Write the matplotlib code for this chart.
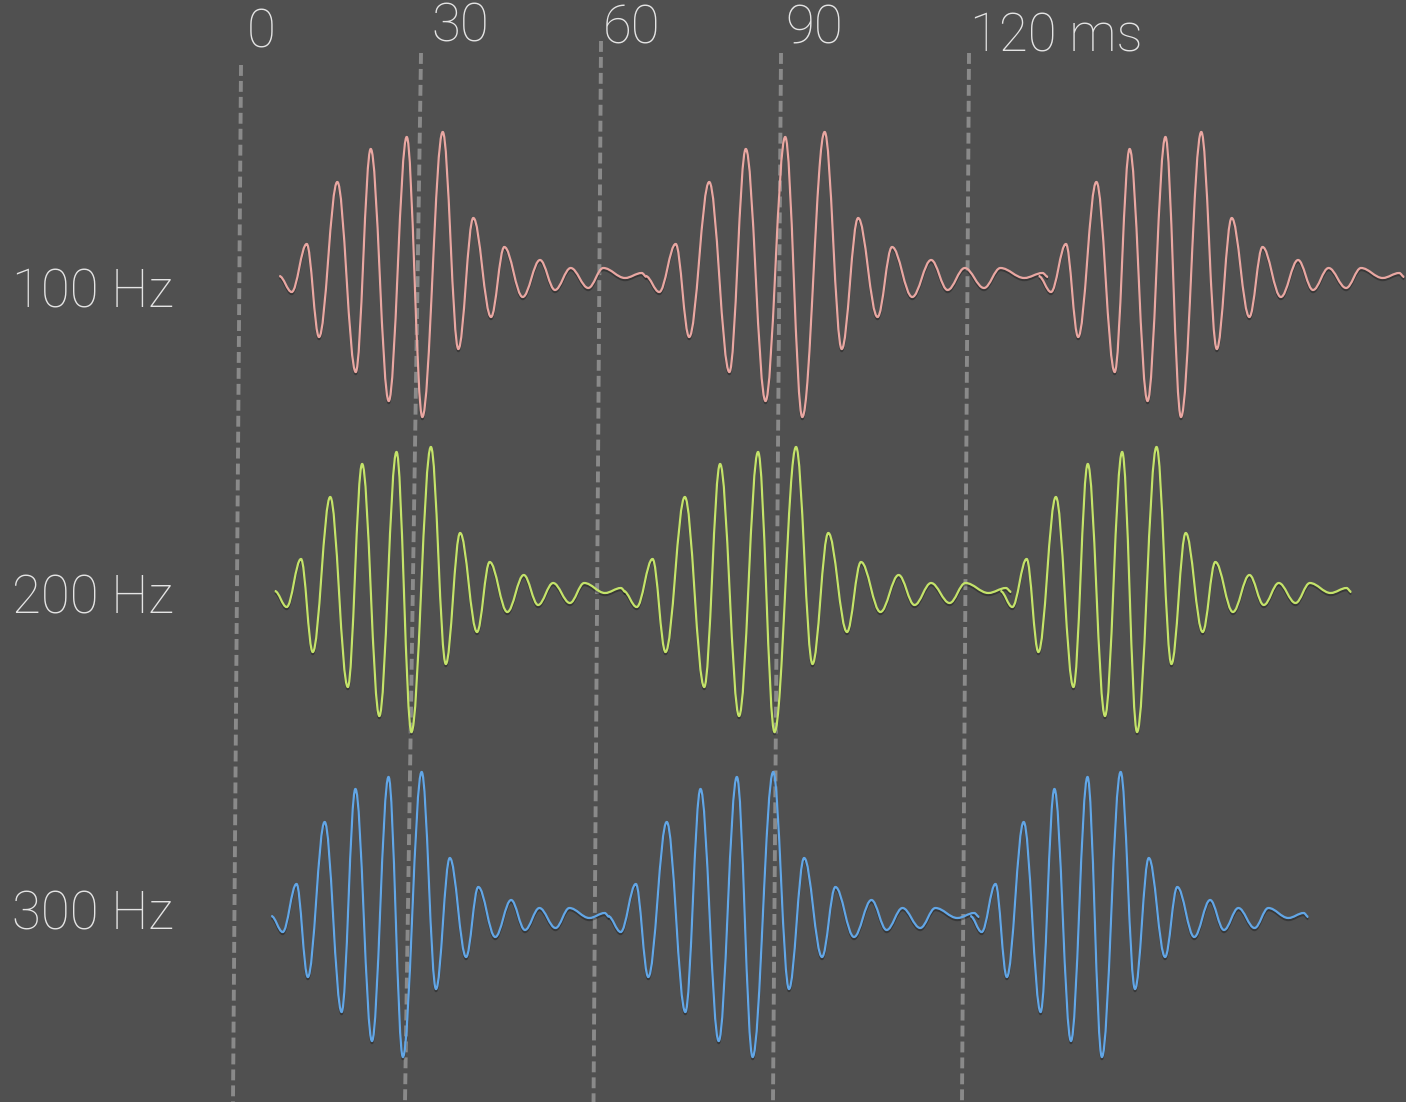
import numpy as np
import matplotlib
matplotlib.use("Agg")
import matplotlib.pyplot as plt
from matplotlib.path import Path
from matplotlib.patches import PathPatch
import matplotlib.patheffects as pe

# one wave packet: extrema times (ms, from first trough) and amplitudes
shape_t = [-2.08, 0, 2.5, 4.55, 7.6, 10.67, 13.17, 16.17, 19.17, 21.77, 25.17, 27.77,
           30.27, 33.22, 35.43, 38.5, 41.38, 43.88, 46.5, 49.43, 51.93, 55.55, 58.33, 59.17]
shape_amp = [1, -15, 33, -60, 95, -95, 128, -124, 140, -140, 145, -72,
             59, -40, 30, -20, 17, -13, 9, -11, 9, -1, 4, 0]

rows = ["100 Hz", "200 Hz", "300 Hz"]
row_base = [825, 510, 185]
colors = ["#e9a7a2", "#c4e36a", "#62a6e6"]

# start (ms) and time stretch of each packet in each row
packet_start = [[9.12, 70.38, 135.67],
                [8.28, 66.62, 129.22],
                [7.62, 63.95, 124.12]]
packet_stretch = [[1.0, 1.095, 0.995],
                  [0.955, 1.055, 0.955],
                  [0.92, 1.01, 0.92]]

tick_ms = [0, 30, 60, 90, 120]
tick_labels = ["0", "30", "60", "90", "120 ms"]
guide_top = [0.67, 30.67, 60.67, 90.67, 122.0]
guide_bottom = [-0.67, 28.0, 59.42, 89.33, 120.83]
guide_top_y = [1037, 1049, 1061, 1049, 1049]
label_x = [1.67, 32.33, 61.0, 91.33, 122.17]
label_y = [1054, 1060, 1058, 1058, 1050]
row_label_y = [795, 489, 172]

BG = "#505050"
TXT = "#e4e4e4"
K = 1 - 2 / np.pi  # bezier handle for a half sine

plt.rcParams['font.family'] = ['Roboto', 'DejaVu Sans']


def packet_path(t0, stretch, base):
    ts = [t0 + stretch * t for t in shape_t]
    ys = [base + a for a in shape_amp]
    verts = [(ts[0], ys[0])]
    codes = [Path.MOVETO]
    for i in range(1, len(ts)):
        dt = ts[i] - ts[i - 1]
        verts += [(ts[i - 1] + K * dt, ys[i - 1]), (ts[i] - K * dt, ys[i]), (ts[i], ys[i])]
        codes += [Path.CURVE4] * 3
    return Path(verts, codes)


fig = plt.figure(figsize=(14.06, 11.02), dpi=100, facecolor=BG)
ax = fig.add_axes([0, 0, 1, 1])
ax.set_facecolor(BG)
ax.set_xlim(-237 / 6, (1406 - 237) / 6)
ax.set_ylim(0, 1102)
ax.axis("off")

for xt, xb, yt in zip(guide_top, guide_bottom, guide_top_y):
    ax.plot([xt, xb], [yt, 0], color="#8a8a8a", lw=2.8, dashes=(2.8, 1.3),
            solid_capstyle="butt", dash_capstyle="butt", zorder=1)

shadow = [pe.SimpleLineShadow(offset=(0, -1.5), shadow_color="black", alpha=0.3), pe.Normal()]
for r in range(len(rows)):
    for t0, s in zip(packet_start[r], packet_stretch[r]):
        patch = PathPatch(packet_path(t0, s, row_base[r]), fill=False,
                          edgecolor=colors[r], lw=1.6, zorder=3)
        patch.set_path_effects(shadow)
        ax.add_patch(patch)
    ax.text(-37.5, row_label_y[r], rows[r], color=TXT, fontsize=38,
            fontweight="light", ha="left", va="baseline")

for x, y, lab in zip(label_x, label_y, tick_labels):
    ax.text(x, y, lab, color=TXT, fontsize=38, fontweight="light",
            ha="left", va="baseline")

fig.savefig("out.png", dpi=100, facecolor=BG)
